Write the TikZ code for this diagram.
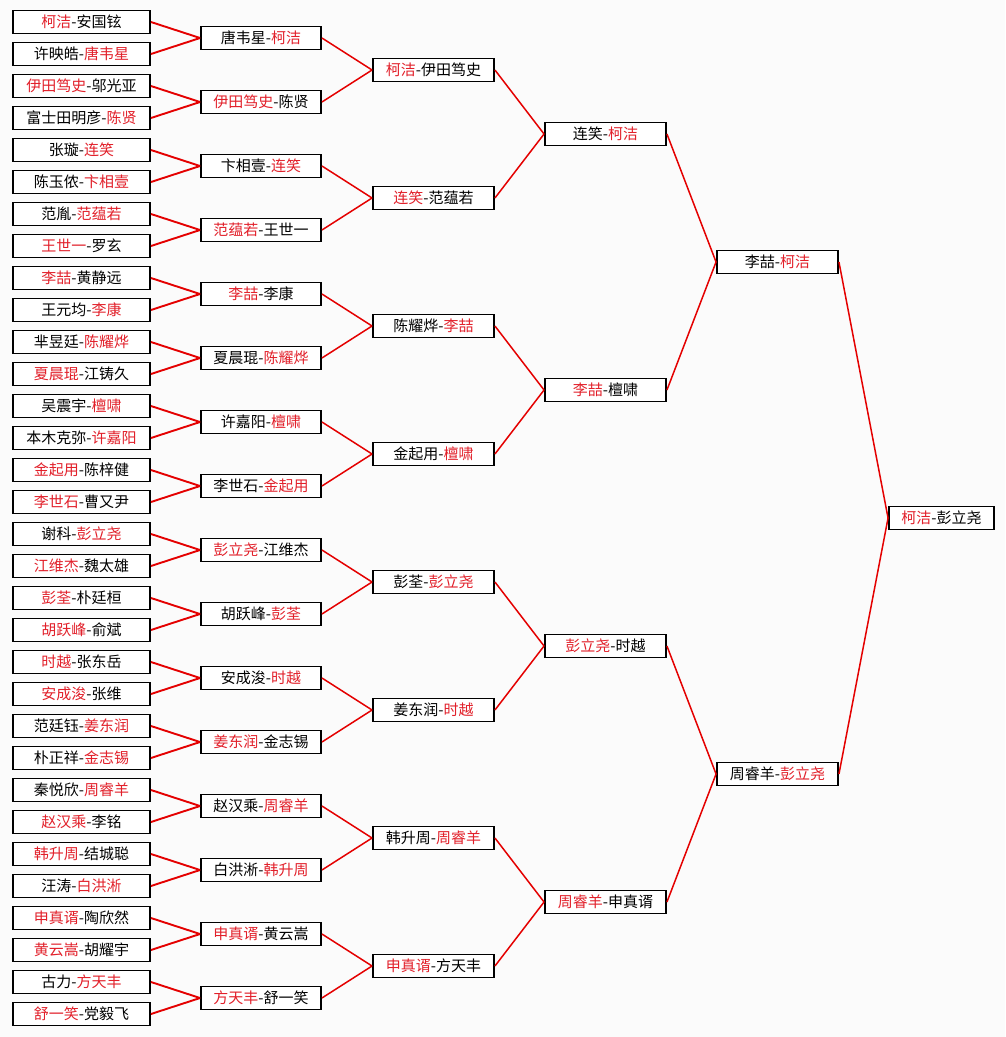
\documentclass[tikz,border=0pt]{standalone}
\usepackage{fontspec}
\setmainfont{Noto Sans CJK SC}
\definecolor{wred}{RGB}{226,32,42}
\definecolor{lred}{RGB}{228,0,0}
\definecolor{bggray}{RGB}{251,251,251}
\newcommand{\R}[1]{\textcolor{wred}{#1}}
\tikzset{
  box/.style={draw=black, line width=1.9pt, fill=white, minimum height=23pt, inner sep=0pt,
    font=\fontsize{15}{15}\selectfont, text=black},
  b1/.style={box, minimum width=137pt},
  b2/.style={box, minimum width=120pt},
  b3/.style={box, minimum width=121pt},
  b6/.style={box, minimum width=105pt},
  link/.style={draw=lred, line width=1.5pt},
  linka/.style={draw=lred, line width=1.9pt}
}
\begin{document}
\begin{tikzpicture}[x=1pt,y=-1pt]
\useasboundingbox (0,0) rectangle (1005,1037);
\fill[bggray] (0,0) rectangle (1005,1037);
% round 1
\foreach \t [count=\i from 0] in {
 {\R{柯洁}-安国铉},{许映皓-\R{唐韦星}},{\R{伊田笃史}-邬光亚},{富士田明彦-\R{陈贤}},
 {张璇-\R{连笑}},{陈玉侬-\R{卞相壹}},{范胤-\R{范蕴若}},{\R{王世一}-罗玄},
 {\R{李喆}-黄静远},{王元均-\R{李康}},{芈昱廷-\R{陈耀烨}},{\R{夏晨琨}-江铸久},
 {吴震宇-\R{檀啸}},{本木克弥-\R{许嘉阳}},{\R{金起用}-陈梓健},{\R{李世石}-曹又尹},
 {谢科-\R{彭立尧}},{\R{江维杰}-魏太雄},{\R{彭荃}-朴廷桓},{\R{胡跃峰}-俞斌},
 {\R{时越}-张东岳},{\R{安成浚}-张维},{范廷钰-\R{姜东润}},{朴正祥-\R{金志锡}},
 {秦悦欣-\R{周睿羊}},{\R{赵汉乘}-李铭},{\R{韩升周}-结城聪},{汪涛-\R{白洪淅}},
 {\R{申真谞}-陶欣然},{\R{黄云嵩}-胡耀宇},{古力-\R{方天丰}},{\R{舒一笑}-党毅飞}} {
  \node[b1] (a\i) at (81.5, {22+32*\i}) {\t};
}
% round 2
\foreach \t [count=\i from 0] in {
 {唐韦星-\R{柯洁}},{\R{伊田笃史}-陈贤},{卞相壹-\R{连笑}},{\R{范蕴若}-王世一},
 {\R{李喆}-李康},{夏晨琨-\R{陈耀烨}},{许嘉阳-\R{檀啸}},{李世石-\R{金起用}},
 {\R{彭立尧}-江维杰},{胡跃峰-\R{彭荃}},{安成浚-\R{时越}},{\R{姜东润}-金志锡},
 {赵汉乘-\R{周睿羊}},{白洪淅-\R{韩升周}},{\R{申真谞}-黄云嵩},{\R{方天丰}-舒一笑}} {
  \node[b2] (b\i) at (261, {38+64*\i}) {\t};
}
% round 3
\foreach \t [count=\i from 0] in {
 {\R{柯洁}-伊田笃史},{\R{连笑}-范蕴若},{陈耀烨-\R{李喆}},{金起用-\R{檀啸}},
 {彭荃-\R{彭立尧}},{姜东润-\R{时越}},{韩升周-\R{周睿羊}},{\R{申真谞}-方天丰}} {
  \node[b3] (c\i) at (433.5, {70+128*\i}) {\t};
}
% round 4
\foreach \t [count=\i from 0] in {
 {连笑-\R{柯洁}},{\R{李喆}-檀啸},{\R{彭立尧}-时越},{\R{周睿羊}-申真谞}} {
  \node[b3] (d\i) at (605.5, {134+256*\i}) {\t};
}
% round 5
\node[b3] (e0) at (777.5, 262) {李喆-\R{柯洁}};
\node[b3] (e1) at (777.5, 774) {周睿羊-\R{彭立尧}};
% final
\node[b6] (f0) at (941.5, 518) {\R{柯洁}-彭立尧};
% connectors
\foreach \i in {0,...,15} {
  \pgfmathtruncatemacro\ja{2*\i}\pgfmathtruncatemacro\jb{2*\i+1}
  \draw[linka] (a\ja.east) -- (b\i.west);
  \draw[linka] (a\jb.east) -- (b\i.west);
}
\foreach \i in {0,...,7} {
  \pgfmathtruncatemacro\ja{2*\i}\pgfmathtruncatemacro\jb{2*\i+1}
  \draw[link] (b\ja.east) -- (c\i.west);
  \draw[link] (b\jb.east) -- (c\i.west);
}
\foreach \i in {0,...,3} {
  \pgfmathtruncatemacro\ja{2*\i}\pgfmathtruncatemacro\jb{2*\i+1}
  \draw[link] (c\ja.east) -- (d\i.west);
  \draw[link] (c\jb.east) -- (d\i.west);
}
\foreach \i in {0,1} {
  \pgfmathtruncatemacro\ja{2*\i}\pgfmathtruncatemacro\jb{2*\i+1}
  \draw[link] (d\ja.east) -- (e\i.west);
  \draw[link] (d\jb.east) -- (e\i.west);
}
\draw[link] (e0.east) -- (f0.west);
\draw[link] (e1.east) -- (f0.west);
\end{tikzpicture}
\end{document}
